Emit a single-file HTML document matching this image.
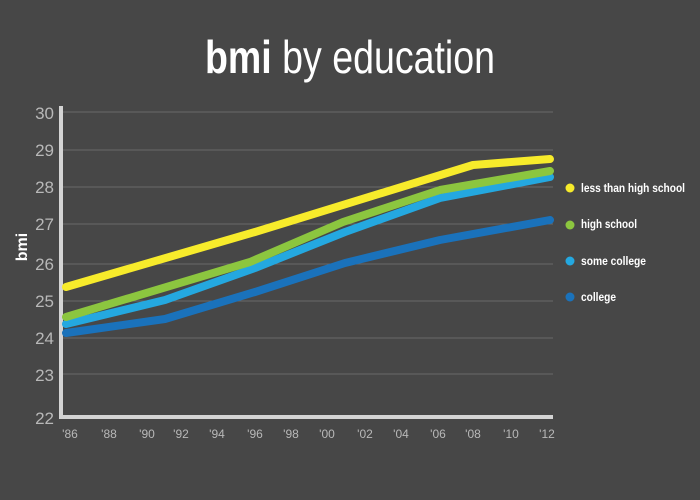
<!DOCTYPE html>
<html><head><style>
body{margin:0;background:#474747;}
svg{display:block;font-family:"Liberation Sans Narrow","Liberation Sans",sans-serif;}
</style></head><body>
<svg width="700" height="500" viewBox="0 0 700 500">
<rect width="700" height="500" fill="#474747"/>
<text x="350" y="73" text-anchor="middle" font-size="46" fill="#fff" textLength="290" lengthAdjust="spacingAndGlyphs"><tspan font-weight="bold">bmi</tspan> by education</text>
<g stroke="#6a6a6a" stroke-width="1">
<line x1="62" x2="553" y1="112" y2="112"/><line x1="62" x2="553" y1="150" y2="150"/>
<line x1="62" x2="553" y1="187" y2="187"/><line x1="62" x2="553" y1="224" y2="224"/>
<line x1="62" x2="553" y1="264" y2="264"/><line x1="62" x2="553" y1="301" y2="301"/>
<line x1="62" x2="553" y1="338" y2="338"/><line x1="62" x2="553" y1="374" y2="374"/>
</g>
<rect x="59" y="106" width="4" height="313" fill="#d4d4d4"/>
<rect x="59" y="415" width="494" height="4" fill="#d4d4d4"/>
<g fill="#b8b8b8" font-size="17" text-anchor="end">
<text x="54" y="119">30</text><text x="54" y="156">29</text><text x="54" y="193">28</text>
<text x="54" y="230">27</text><text x="54" y="270">26</text><text x="54" y="307">25</text>
<text x="54" y="344">24</text><text x="54" y="381">23</text><text x="54" y="424">22</text>
</g>
<text x="27" y="247" fill="#fff" font-size="16" font-weight="bold" text-anchor="middle" transform="rotate(-90 27 247)">bmi</text>
<g fill="#b8b8b8" font-size="12" text-anchor="middle">
<text x="70" y="438">'86</text><text x="109" y="438">'88</text><text x="147" y="438">'90</text>
<text x="181" y="438">'92</text><text x="217" y="438">'94</text><text x="255" y="438">'96</text>
<text x="291" y="438">'98</text><text x="327" y="438">'00</text><text x="365" y="438">'02</text>
<text x="401" y="438">'04</text><text x="438" y="438">'06</text><text x="473" y="438">'08</text>
<text x="511" y="438">'10</text><text x="547" y="438">'12</text>
</g>
<g fill="none" stroke-width="8" stroke-linecap="round" stroke-linejoin="round">
<polyline stroke="#1a72bb" points="66,333 165,319 255,292 345,263 440,240 550,220"/>
<polyline stroke="#24a8e0" points="66,324 165,300 255,268 345,232 440,198 550,177"/>
<polyline stroke="#8cc63f" points="66,317 250,262 343,222 440,190 550,171"/>
<polyline stroke="#f7eb2b" points="66,287 255,232 473,165 550,159"/>
</g>
<g font-size="12" font-weight="bold" fill="#fff">
<circle cx="570" cy="188" r="4.5" fill="#f7eb2b"/><text x="581" y="192" textLength="104" lengthAdjust="spacingAndGlyphs">less than high school</text>
<circle cx="570" cy="225" r="4.5" fill="#8cc63f"/><text x="581" y="228" textLength="56" lengthAdjust="spacingAndGlyphs">high school</text>
<circle cx="570" cy="261" r="4.5" fill="#24a8e0"/><text x="581" y="265" textLength="65" lengthAdjust="spacingAndGlyphs">some college</text>
<circle cx="570" cy="297" r="4.5" fill="#1a72bb"/><text x="581" y="301" textLength="35" lengthAdjust="spacingAndGlyphs">college</text>
</g>
</svg>
</body></html>
